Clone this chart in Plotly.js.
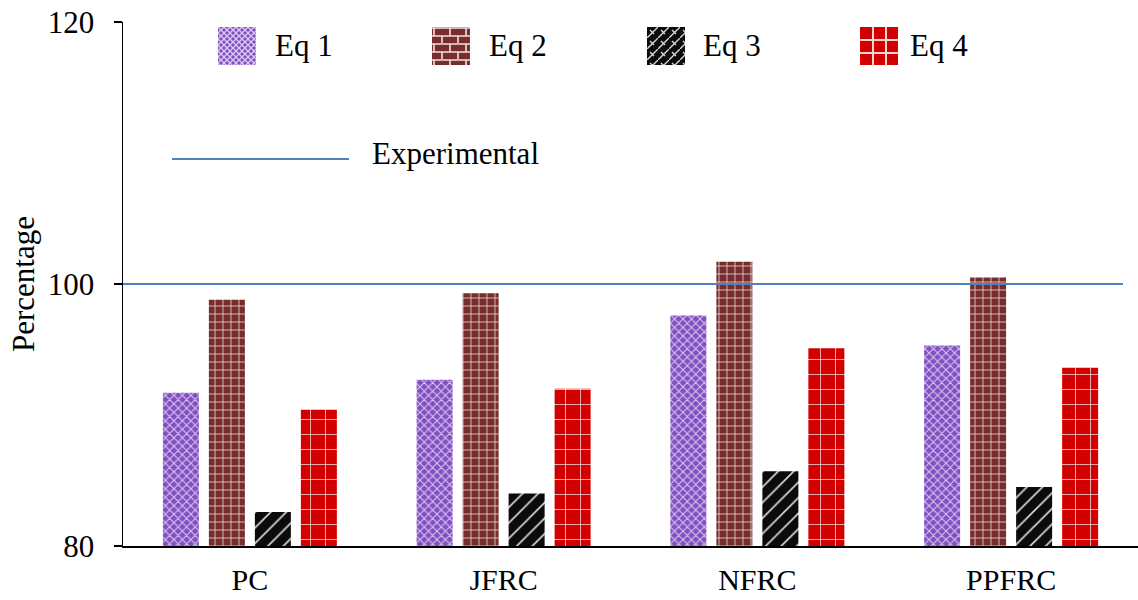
<!DOCTYPE html>
<html>
<head>
<meta charset="utf-8">
<script src="https://cdn.plot.ly/plotly-3.0.1.min.js"></script>
<style>html,body{margin:0;padding:0;background:#fff;}#chart{width:1138px;height:600px;}</style>
</head>
<body>
<div id="chart"></div>
<script>
// ---- data ----
const categories = ["PC", "JFRC", "NFRC", "PPFRC"];
const seriesNames = ["Eq 1", "Eq 2", "Eq 3", "Eq 4"];
const eq1 = [91.7, 92.7, 97.6, 95.3];
const eq2 = [98.8, 99.3, 101.7, 100.5];
const eq3 = [82.6, 84.0, 85.7, 84.5];
const eq4 = [90.4, 92.0, 95.1, 93.6];
const experimentalName = "Experimental";
const experimentalValue = 100;
const yTicks = [80, 100, 120];

// ---- styling ----
const FONT = "'Liberation Serif', 'Times New Roman', serif";
const FS = 31;
const W = 1138, H = 600;
const M = {l: 123, r: 0, t: 22, b: 54};
const PW = W - M.l - M.r, PH = H - M.t - M.b;
const px = v => (v - M.l) / PW;
const py = v => (H - M.b - v) / PH;

const patterns = [
  {shape: "x", bgcolor: "#8050c0", fgcolor: "#dec9f5", size: 6, solidity: 0.3},
  {shape: "+", bgcolor: "#7a2b2b", fgcolor: "#ece4e4", size: 8, solidity: 0.18},
  {shape: "/", bgcolor: "#0b0b0b", fgcolor: "#d8d8d8", size: 11, solidity: 0.15},
  {shape: "+", bgcolor: "#d20000", fgcolor: "#f6dada", size: 15, solidity: 0.1}
];
const values = [eq1, eq2, eq3, eq4];

const traces = values.map((v, i) => ({
  type: "bar",
  name: seriesNames[i],
  x: categories,
  y: v,
  marker: {color: patterns[i].bgcolor, line: {width: 0}, pattern: patterns[i]},
  showlegend: false,
  hoverinfo: "x+y+name"
}));

// legend swatches (SVG images)
const svgs = [
  "<svg xmlns='http://www.w3.org/2000/svg' width='38' height='38'><defs><pattern id='p' width='6' height='6' patternUnits='userSpaceOnUse'><rect width='6' height='6' fill='#8050c0'/><path d='M0,0L6,6M6,0L0,6' stroke='#dec9f5' stroke-width='1.3'/></pattern></defs><rect width='38' height='38' fill='url(#p)'/></svg>",
  "<svg xmlns='http://www.w3.org/2000/svg' width='38' height='38'><defs><pattern id='p' width='16' height='16' patternUnits='userSpaceOnUse'><rect width='16' height='16' fill='#7a2b2b'/><path d='M0,1H16M0,9H16M2,1V9M10,9V17' stroke='#ece4e4' stroke-width='1.6'/></pattern></defs><rect width='38' height='38' fill='url(#p)'/></svg>",
  "<svg xmlns='http://www.w3.org/2000/svg' width='38' height='38'><defs><pattern id='p' width='11' height='11' patternUnits='userSpaceOnUse'><rect width='11' height='11' fill='#0b0b0b'/><path d='M-1,12L12,-1M3,3L7,7' stroke='#d8d8d8' stroke-width='1.4'/></pattern></defs><rect width='38' height='38' fill='url(#p)'/></svg>",
  "<svg xmlns='http://www.w3.org/2000/svg' width='38' height='38'><rect width='38' height='38' fill='#d20000'/><path d='M0,13H38M0,26H38M13,0V38M26,0V38' stroke='#f6dada' stroke-width='2'/></svg>"
];
const swatchX = [218, 432, 647, 860];
const textX = [273, 487, 701, 908];
const legendY = 46;

const images = svgs.map((s, i) => ({
  source: "data:image/svg+xml;charset=utf-8," + encodeURIComponent(s),
  xref: "paper", yref: "paper",
  x: px(swatchX[i]), y: py(legendY - 19),
  sizex: 38 / PW, sizey: 38 / PH,
  xanchor: "left", yanchor: "top", sizing: "stretch", layer: "above"
}));

const annotations = seriesNames.map((n, i) => ({
  text: n, xref: "paper", yref: "paper",
  x: px(textX[i]), y: py(legendY), xanchor: "left", yanchor: "middle",
  showarrow: false, font: {family: FONT, size: FS, color: "#000"}
}));
annotations.push({
  text: experimentalName, xref: "paper", yref: "paper",
  x: px(370), y: py(153), xanchor: "left", yanchor: "middle",
  showarrow: false, font: {family: FONT, size: FS, color: "#000"}
});

const shapes = [
  {type: "line", xref: "paper", yref: "y", x0: 0, x1: px(1123), y0: experimentalValue, y1: experimentalValue,
   line: {color: "#4f81bd", width: 2}},
  {type: "line", xref: "paper", yref: "paper", x0: px(172), x1: px(349), y0: py(159), y1: py(159),
   line: {color: "#4f81bd", width: 2}}
];

const layout = {
  width: W, height: H,
  margin: M,
  paper_bgcolor: "#fff", plot_bgcolor: "#fff",
  font: {family: FONT, size: FS, color: "#000"},
  barmode: "group",
  bargap: 0.275,
  bargroupgap: 0.217,
  showlegend: false,
  xaxis: {
    type: "category",
    showline: true, linecolor: "#000", linewidth: 1.5,
    ticks: "", showgrid: false, zeroline: false,
    tickfont: {family: FONT, size: 30, color: "#000"},
    ticklabelstandoff: 6
  },
  yaxis: {
    range: [80, 120],
    tickvals: yTicks,
    showline: true, linecolor: "#000", linewidth: 1.5,
    ticks: "outside", ticklen: 8, tickwidth: 1.5, tickcolor: "#000",
    showgrid: false, zeroline: false,
    tickfont: {family: FONT, size: FS, color: "#000"},
    ticklabelstandoff: 13,
    title: {text: "Percentage", font: {family: FONT, size: FS, color: "#000"}, standoff: 4}
  },
  shapes: shapes,
  images: images,
  annotations: annotations
};

Plotly.newPlot("chart", traces, layout, {displayModeBar: false, staticPlot: true});
</script>
</body>
</html>
